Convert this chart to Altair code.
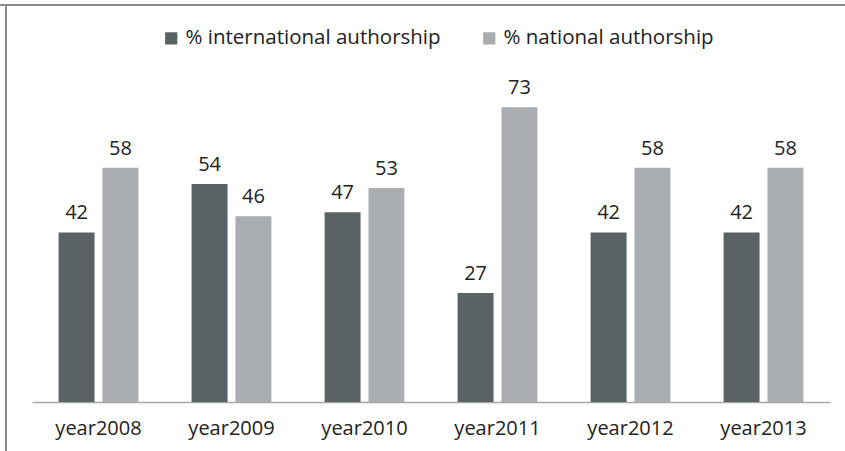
import altair as alt
import pandas as pd

categories = ["year2008", "year2009", "year2010", "year2011", "year2012", "year2013"]
series = ["% international authorship", "% national authorship"]
international = [42, 54, 47, 27, 42, 42]
national = [58, 46, 53, 73, 58, 58]
colors = ["#5b6264", "#aaaeb0"]

rows = []
for i, c in enumerate(categories):
    rows.append({"year": c, "series": series[0], "value": international[i]})
    rows.append({"year": c, "series": series[1], "value": national[i]})
df = pd.DataFrame(rows)

FONT = "Open Sans"

base = alt.Chart(df).encode(
    x=alt.X("year:N", sort=categories,
            scale=alt.Scale(paddingInner=0.4, paddingOuter=0.2),
            axis=alt.Axis(title=None, labelAngle=0, ticks=False, labelFontSize=20,
                          labelFont=FONT, labelColor="#222222", labelPadding=16,
                          domainColor="#a3a7a9", domainWidth=1.5)),
    xOffset=alt.XOffset("series:N", sort=series, scale=alt.Scale(paddingInner=0.18)),
    y=alt.Y("value:Q", scale=alt.Scale(domain=[0, 80]), axis=None),
)

bars = base.mark_bar().encode(
    color=alt.Color("series:N", sort=series,
                    scale=alt.Scale(domain=series, range=colors),
                    legend=alt.Legend(title=None, orient="none", legendX=129, legendY=-51,
                                      direction="horizontal", symbolType="square",
                                      symbolSize=150, symbolStrokeWidth=0,
                                      labelFontSize=20.5, labelFont=FONT, labelColor="#222222",
                                      labelLimit=600, columnPadding=38, labelOffset=4))
)

texts = base.mark_text(baseline="alphabetic", dy=-13, fontSize=20, font=FONT,
                       color="#222222").encode(text="value:Q")

one = pd.DataFrame({"a": [0]})
top_border = alt.Chart(one).mark_rule(color="#8c8c8c", strokeWidth=2).encode(
    x=alt.value(-32), x2=alt.value(813), y=alt.value(-74))
left_border = alt.Chart(one).mark_rule(color="#8c8c8c", strokeWidth=2).encode(
    x=alt.value(-26), y=alt.value(-74), y2=alt.value(372))

chart = alt.layer(bars, texts, top_border, left_border).properties(
    width=798, height=323,
    autosize=alt.AutoSizeParams(type="none"),
    padding={"left": 32, "top": 79, "right": 15, "bottom": 49},
    background="white",
).configure_view(stroke=None)

chart.save("out.html", embed_options={"renderer": "svg", "actions": False})
